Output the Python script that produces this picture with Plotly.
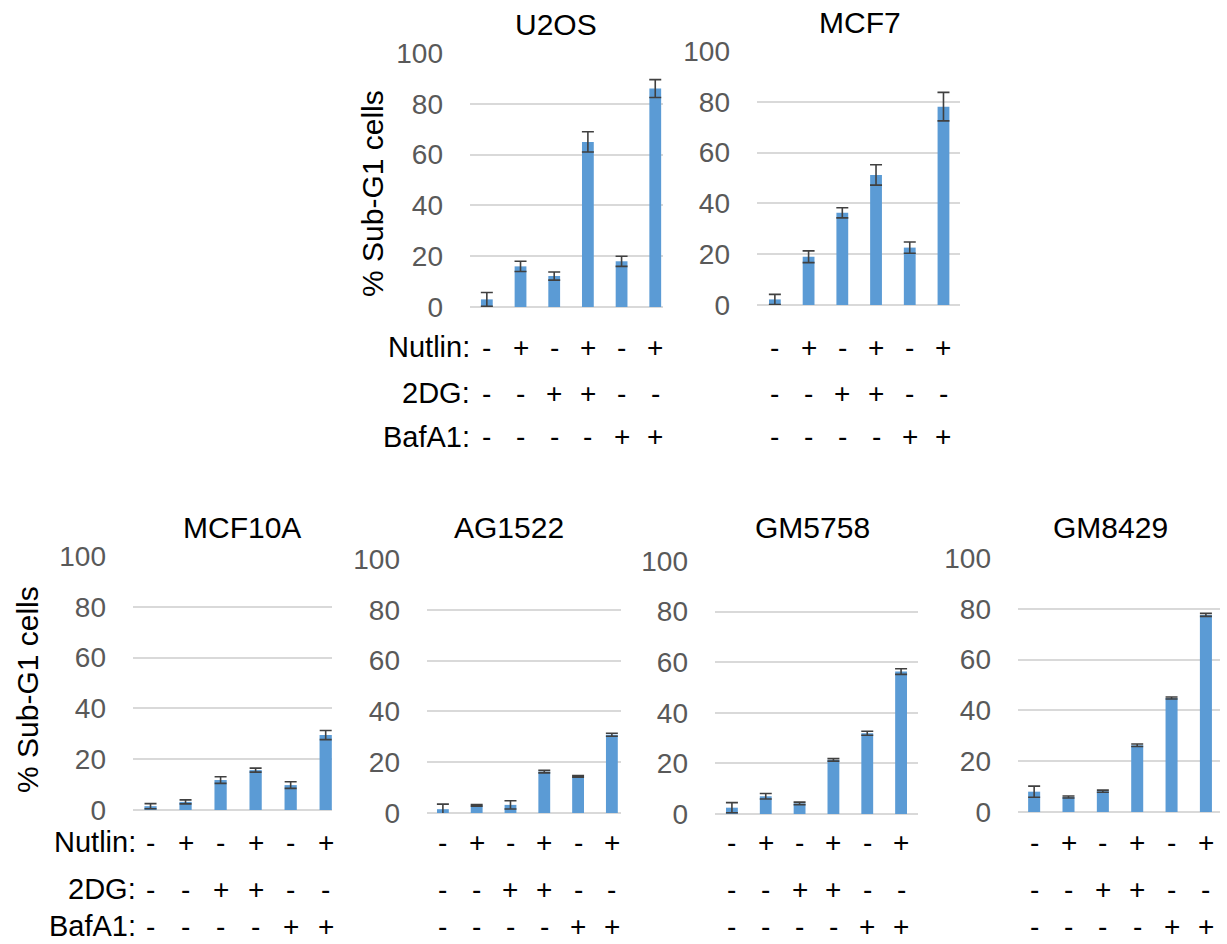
import plotly.graph_objects as go

W, H = 1227, 944

# ---- data ----
cell_lines = ["U2OS", "MCF7", "MCF10A", "AG1522", "GM5758", "GM8429"]
nutlin = ["-", "+", "-", "+", "-", "+"]
dg2 = ["-", "-", "+", "+", "-", "-"]
bafa1 = ["-", "-", "-", "-", "+", "+"]
row_names = ["Nutlin:", "2DG:", "BafA1:"]

u2os_vals = [3.0, 16.0, 12.2, 65.0, 18.0, 86.0]
u2os_err = [2.7, 2.0, 1.6, 4.0, 2.0, 3.5]
mcf7_vals = [2.2, 19.0, 36.3, 51.2, 22.6, 78.1]
mcf7_err = [2.0, 2.3, 2.0, 4.0, 2.2, 5.6]
mcf10a_vals = [1.5, 3.2, 11.8, 15.7, 9.8, 29.5]
mcf10a_err = [1.0, 0.8, 1.3, 0.8, 1.3, 1.8]
ag1522_vals = [1.5, 3.0, 3.2, 16.3, 14.4, 30.8]
ag1522_err = [2.0, 0.3, 1.6, 0.5, 0.3, 0.6]
gm5758_vals = [2.5, 7.0, 4.2, 21.4, 31.9, 56.3]
gm5758_err = [2.0, 1.1, 0.5, 0.5, 0.8, 1.1]
gm8429_vals = [8.0, 5.9, 8.2, 26.3, 44.9, 77.6]
gm8429_err = [2.2, 0.4, 0.4, 0.5, 0.4, 0.6]

y_ticks = [0, 20, 40, 60, 80, 100]
y_title = "% Sub-G1 cells"

values = [u2os_vals, mcf7_vals, mcf10a_vals, ag1522_vals, gm5758_vals, gm8429_vals]
errors = [u2os_err, mcf7_err, mcf10a_err, ag1522_err, gm5758_err, gm8429_err]

# ---- layout geometry (pixels) ----
TOP_ROWS = [347, 393, 437]
BOT_ROWS = [842, 889, 926]
panels = [
    dict(l=470, r=663, y100=53, y0=307, xr=[-0.5, 5.23], tx=556, ty=25, rows=TOP_ROWS, lab=472),
    dict(l=757, r=960, y100=51, y0=305, xr=[-0.53, 5.49], tx=860, ty=23, rows=TOP_ROWS, lab=None),
    dict(l=133, r=332, y100=556, y0=810, xr=[-0.5, 5.18], tx=242, ty=527, rows=BOT_ROWS, lab=138),
    dict(l=427, r=621, y100=559, y0=813, xr=[-0.47, 5.27], tx=509, ty=527, rows=BOT_ROWS, lab=None),
    dict(l=715, r=918, y100=561, y0=814, xr=[-0.5, 5.5], tx=812, ty=527, rows=BOT_ROWS, lab=None),
    dict(l=1018, r=1220, y100=558, y0=812, xr=[-0.47, 5.41], tx=1110, ty=527, rows=BOT_ROWS, lab=None),
]

FONT = "Liberation Sans, Arial, sans-serif"
BAR = "#5B9BD5"
GRID = "#D9D9D9"
TICK = "#595959"
ERR = "#404040"

fig = go.Figure()
annotations = []
layout_axes = {}

for i, (name, vals, errs, p) in enumerate(zip(cell_lines, values, errors, panels)):
    n = i + 1
    xa = "x" if n == 1 else f"x{n}"
    ya = "y" if n == 1 else f"y{n}"
    xs = list(range(len(vals)))
    fig.add_trace(go.Bar(
        x=xs, y=vals, xaxis=xa, yaxis=ya,
        marker=dict(color=BAR, line=dict(width=0)),
        width=0.35,
        error_y=dict(type="data", array=errs, visible=True, color=ERR, thickness=1.6, width=6),
        showlegend=False, hoverinfo="skip",
    ))
    xkey = "xaxis" if n == 1 else f"xaxis{n}"
    ykey = "yaxis" if n == 1 else f"yaxis{n}"
    layout_axes[xkey] = dict(
        domain=[p["l"] / W, p["r"] / W], range=p["xr"], anchor=ya,
        showticklabels=False, showgrid=False, zeroline=False, showline=False, ticks="",
        fixedrange=True, automargin=False,
    )
    layout_axes[ykey] = dict(
        domain=[1 - p["y0"] / H, 1 - p["y100"] / H], range=[0, 100], anchor=xa,
        tickvals=y_ticks, ticktext=[str(t) for t in y_ticks],
        showgrid=True, gridcolor=GRID, gridwidth=1.5,
        zeroline=True, zerolinecolor=GRID, zerolinewidth=1.5,
        showline=False, ticks="", ticklabelstandoff=26,
        tickfont=dict(family=FONT, size=28, color=TICK),
        fixedrange=True, automargin=False,
    )
    annotations.append(dict(
        text=name, x=p["tx"] / W, y=1 - p["ty"] / H, xref="paper", yref="paper",
        xanchor="center", yanchor="middle", showarrow=False,
        font=dict(family=FONT, size=30, color="black"),
    ))
    for row_y, signs in zip(p["rows"], [nutlin, dg2, bafa1]):
        for xi, s in zip(xs, signs):
            annotations.append(dict(
                text=s, x=xi, y=1 - row_y / H, xref=xa, yref="paper",
                xanchor="center", yanchor="middle", showarrow=False,
                font=dict(family=FONT, size=28, color="black"),
            ))
    if p["lab"] is not None:
        for row_y, rn in zip(p["rows"], row_names):
            annotations.append(dict(
                text=rn, x=p["lab"] / W, y=1 - row_y / H, xref="paper", yref="paper",
                xanchor="right", yanchor="middle", showarrow=False,
                font=dict(family=FONT, size=29, color="black"),
            ))

for (tx, ty) in [(372, 194), (27, 690)]:
    annotations.append(dict(
        text=y_title, x=tx / W, y=1 - ty / H, xref="paper", yref="paper",
        xanchor="center", yanchor="middle", textangle=-90, showarrow=False,
        font=dict(family=FONT, size=30, color="black"),
    ))

fig.update_layout(
    width=W, height=H, autosize=False,
    margin=dict(l=0, r=0, t=0, b=0, pad=0, autoexpand=False),
    paper_bgcolor="white", plot_bgcolor="white",
    showlegend=False,
    annotations=annotations,
    **layout_axes,
)

fig.write_html(
    "out.html",
    config={"displayModeBar": False, "responsive": False},
    post_script="document.body.style.margin='0px';document.body.style.overflow='hidden';",
)
